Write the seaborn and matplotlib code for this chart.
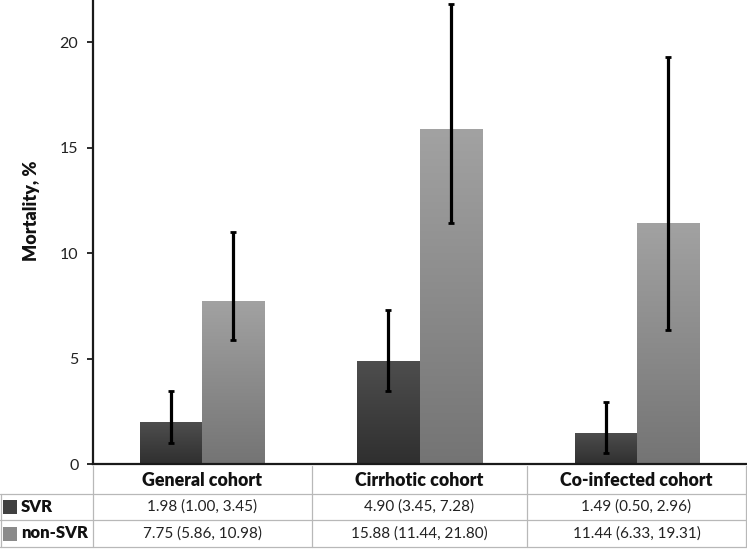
import numpy as np
import pandas as pd
import matplotlib
matplotlib.use("Agg")
import matplotlib.pyplot as plt
from matplotlib.colors import LinearSegmentedColormap
from matplotlib.patches import Rectangle
from matplotlib.lines import Line2D
import seaborn as sns

# ---- data ----
categories = ["General cohort", "Cirrhotic cohort", "Co-infected cohort"]
groups = ["SVR", "non-SVR"]
svr_values = [1.98, 4.90, 1.49]
svr_low = [1.00, 3.45, 0.50]
svr_high = [3.45, 7.28, 2.96]
nonsvr_values = [7.75, 15.88, 11.44]
nonsvr_low = [5.86, 11.44, 6.33]
nonsvr_high = [10.98, 21.80, 19.31]
yticks = [0, 5, 10, 15, 20]

df = pd.DataFrame({
    "cohort": categories * 2,
    "group": [groups[0]] * 3 + [groups[1]] * 3,
    "value": svr_values + nonsvr_values,
    "low": svr_low + nonsvr_low,
    "high": svr_high + nonsvr_high,
})

sns.set_theme(style="white")
plt.rcParams["font.family"] = ["Lato", "DejaVu Sans"]
BOLD = "heavy"

W, H = 747, 549
fig = plt.figure(figsize=(W / 100, H / 100), dpi=100)
fx = lambda px: px / W
fy = lambda py: 1 - py / H

ax_left, ax_right, ax_bottom_px = 93, 746, 464
ax = fig.add_axes([fx(ax_left), fy(ax_bottom_px), fx(ax_right - ax_left), ax_bottom_px / H])

palette = {"SVR": "#404040", "non-SVR": "#8a8a8a"}
sns.barplot(data=df, x="cohort", y="value", hue="group", order=categories,
            hue_order=groups, palette=palette, width=0.57, errorbar=None,
            legend=False, ax=ax, linewidth=0, saturation=1)

grad = {"SVR": ("#2f2f2f", "#4e4e4e"), "non-SVR": ("#747474", "#a2a2a2")}

# gradient fill + error bars
bars = [p for p in ax.patches if isinstance(p, Rectangle) and p.get_height() > 0]
for i, grp in enumerate(groups):
    sub = df[df["group"] == grp].set_index("cohort").loc[categories]
    grp_bars = bars[i * 3:(i + 1) * 3]
    cmap = LinearSegmentedColormap.from_list(grp, list(grad[grp]))
    xs = []
    for p in grp_bars:
        x0, w, h = p.get_x(), p.get_width(), p.get_height()
        g = np.linspace(0, 1, 256).reshape(-1, 1)
        im = ax.imshow(g, extent=[x0, x0 + w, 0, h], origin="lower", cmap=cmap,
                       aspect="auto", zorder=2)
        im.set_clip_path(p)
        p.set_facecolor("none")
        xs.append(x0 + w / 2)
    vals = sub["value"].values
    yerr = np.vstack([vals - sub["low"].values, sub["high"].values - vals])
    ax.errorbar(xs, vals, yerr=yerr, fmt="none", ecolor="black", elinewidth=2.3,
                capsize=2.2, capthick=2.0, zorder=4)

ax.set_xlim(-0.5, 2.5)
ax.set_ylim(0, 22)
ax.set_yticks(yticks)
ax.set_yticklabels([str(t) for t in yticks], fontsize=11.5)
ax.set_xticks([])
ax.set_xlabel("")
ax.set_ylabel("Mortality, %", fontsize=13, fontweight=BOLD, color="#111111")
ax.yaxis.set_label_coords(-0.081, 0.545)
for s in ["top", "right"]:
    ax.spines[s].set_visible(False)
for s in ["left", "bottom"]:
    ax.spines[s].set_color("#1a1a1a")
    ax.spines[s].set_linewidth(1.6)
ax.tick_params(axis="y", which="both", left=True, length=4.5, width=1.3,
               color="#1a1a1a", pad=6, labelcolor="#222222")

# ---- data table below ----
line_c = "#b8b8b8"
row_y = [466, 494, 520, 547]
col_x = [93, 312, 527, 746]

def hline(y, x0, x1):
    fig.add_artist(Line2D([fx(x0), fx(x1)], [fy(y), fy(y)], color=line_c, lw=0.9))

def vline(x, y0, y1):
    fig.add_artist(Line2D([fx(x), fx(x)], [fy(y0), fy(y1)], color=line_c, lw=0.9))

for y in row_y[1:]:
    hline(y, 0, 746)
for x in col_x:
    vline(x, row_y[0], row_y[-1])
vline(0.5, row_y[1], row_y[-1])

for j, c in enumerate(categories):
    xc = (col_x[j] + col_x[j + 1]) / 2
    fig.text(fx(xc), fy((row_y[0] + row_y[1]) / 2), c, ha="center", va="center",
             fontsize=12.8, fontweight=BOLD, color="#111111")

row_texts = [
    [f"{v:.2f} ({l:.2f}, {h:.2f})" for v, l, h in zip(svr_values, svr_low, svr_high)],
    [f"{v:.2f} ({l:.2f}, {h:.2f})" for v, l, h in zip(nonsvr_values, nonsvr_low, nonsvr_high)],
]
for r, grp in enumerate(groups):
    yc = (row_y[r + 1] + row_y[r + 2]) / 2
    fig.add_artist(Rectangle((fx(3), fy(yc + 7)), fx(14), 14 / H,
                             facecolor=palette[grp], edgecolor="none"))
    fig.text(fx(21), fy(yc), grp, ha="left", va="center", fontsize=12,
             fontweight=BOLD, color="#111111")
    for j in range(3):
        xc = (col_x[j] + col_x[j + 1]) / 2
        fig.text(fx(xc), fy(yc), row_texts[r][j], ha="center", va="center",
                 fontsize=11, color="#222222")

fig.savefig("out.png", dpi=100)
